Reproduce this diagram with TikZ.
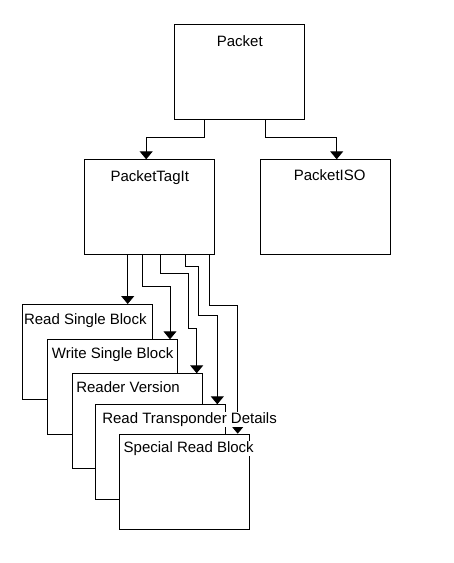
\documentclass[tikz,border=0pt]{standalone}
\usepackage{fontspec}
\setmainfont{Liberation Sans}
\usetikzlibrary{arrows.meta}
\begin{document}
\begin{tikzpicture}[x=1pt,y=-1pt,
  box/.style={draw, fill=white, line width=1pt, minimum width=130pt, minimum height=95pt, inner sep=0pt, anchor=north west},
  lbl/.style={fill=white, inner xsep=0.5pt, inner ysep=0pt, text height=11.5pt, text depth=3.5pt, anchor=base west, font=\fontsize{15}{18}\selectfont},
  ttl/.style={inner sep=0pt, anchor=base, font=\fontsize{15}{18}\selectfont},
  arr/.style={line width=1pt, -{Triangle[width=13pt,length=8pt]}}]
\useasboundingbox (0,0) rectangle (454,563);
% boxes
\node[box] (packet) at (174.3,24.3) {};
\node[box] (tagit) at (84.3,159.3) {};
\node[box] (iso) at (259.7,159.3) {};
\node[box] (rsb) at (22.3,304) {};
\node[box] (wsb) at (46.7,339.3) {};
\node[box] (rv) at (71.7,373.3) {};
\node[box] (rtd) at (95.3,404.3) {};
\node[box] (srb) at (119.3,433.7) {};
% connectors
\draw[arr] ([xshift=-35pt]packet.south) -- ++(0,17.4) -| ([xshift=-3.6pt]tagit.north);
\draw[arr] ([xshift=26pt]packet.south) -- ++(0,17.4) -| ([xshift=11.5pt]iso.north);
\draw[arr] ([xshift=43.4pt]tagit.south west) -- ([xshift=105.4pt]rsb.north west);
\draw[arr] ([xshift=58.4pt]tagit.south west) -- ++(0,30.7) -| ([xshift=123.3pt]wsb.north west);
\draw[arr] ([xshift=75.7pt]tagit.south west) -- ++(0,18) -| (188.3,328.3) -| ([xshift=125pt]rv.north west);
\draw[arr] ([xshift=101.4pt]tagit.south west) -- ++(0,10.7) -| (198.3,315.7) -| ([xshift=122pt]rtd.north west);
\draw[arr] ([xshift=125pt]tagit.south west) -- ++(0,50) -| ([xshift=118.4pt]srb.north west);
% titles
\node[ttl] (tpacket) at ([yshift=-21.7pt]packet.north) {Packet};
\node[ttl] (ttagit) at ([yshift=-22pt]tagit.north) {PacketTagIt};
\node[ttl] (tiso) at ([xshift=4.5pt,yshift=-21pt]iso.north) {PacketISO};
\node[lbl] (lrsb) at ([xshift=1pt,yshift=-20pt]rsb.north west) {Read Single Block};
\node[lbl] (lwsb) at ([xshift=4.5pt,yshift=-19pt]wsb.north west) {Write Single Block};
\node[lbl] (lrv) at ([xshift=3.9pt,yshift=-19pt]rv.north west) {Reader Version};
\node[lbl] (lrtd) at ([xshift=6.3pt,yshift=-19pt]rtd.north west) {Read Transponder Details};
\node[lbl] (lsrb) at ([xshift=3.7pt,yshift=-19pt]srb.north west) {Special Read Block};
\end{tikzpicture}
\end{document}
